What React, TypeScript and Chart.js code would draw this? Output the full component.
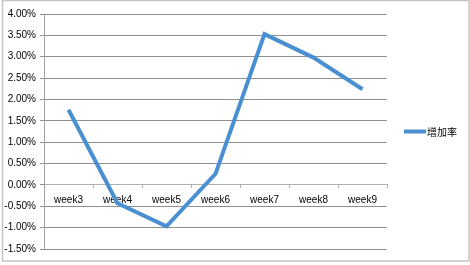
import React, { useEffect, useRef } from "react";
import { Chart, registerables } from "chart.js";

Chart.register(...registerables);

const categories = ["week3", "week4", "week5", "week6", "week7", "week8", "week9"];
const seriesLabel = "增加率";
const growthRates = [1.76, -0.43, -0.97, 0.26, 3.53, 2.98, 2.24];
const yMin = -1.5;
const yMax = 4.0;
const yStep = 0.5;

const LINE_COLOR = "#4a8fd2";
const GRID_COLOR = "#8f8f8f";
const FONT = '"Liberation Sans", Arial, sans-serif';

const framePlugin = {
  id: "frame",
  beforeDraw(chart: any) {
    const ctx = chart.ctx;
    ctx.save();
    ctx.fillStyle = "#ffffff";
    ctx.fillRect(0, 0, chart.width, chart.height);
    ctx.strokeStyle = "#c4c4c4";
    ctx.lineWidth = 1.5;
    ctx.strokeRect(2.5, 0.5, 466.5, 260.5);
    ctx.restore();
  },
};

const legendPlugin = {
  id: "sideLegend",
  afterDraw(chart: any) {
    const ctx = chart.ctx;
    const ds = chart.data.datasets[0];
    ctx.save();
    ctx.strokeStyle = ds.borderColor;
    ctx.lineWidth = 4;
    ctx.beginPath();
    ctx.moveTo(404, 131.5);
    ctx.lineTo(426, 131.5);
    ctx.stroke();
    ctx.fillStyle = "#000";
    ctx.font = '10px "Noto Sans CJK SC", sans-serif';
    ctx.textBaseline = "middle";
    ctx.textAlign = "left";
    ctx.fillText(ds.label, 427, 132);
    ctx.restore();
  },
};

export default function App() {
  const ref = useRef<HTMLCanvasElement>(null);
  useEffect(() => {
    const chart = new Chart(ref.current!, {
      type: "line",
      data: {
        labels: categories,
        datasets: [
          {
            label: seriesLabel,
            data: growthRates,
            borderColor: LINE_COLOR,
            backgroundColor: LINE_COLOR,
            borderWidth: 4,
            pointRadius: 0,
            tension: 0,
            fill: false,
          },
        ],
      },
      options: {
        animation: false,
        responsive: true,
        maintainAspectRatio: false,
        layout: { padding: { left: 0, top: 14, right: 83, bottom: 16 } },
        plugins: { legend: { display: false }, tooltip: { enabled: false } },
        scales: {
          x: {
            type: "category",
            position: { y: 0 } as any,
            offset: true,
            grid: {
              offset: true,
              drawOnChartArea: false,
              drawTicks: true,
              tickLength: 3,
              color: "#b0b0b0",
            },
            border: { display: true, color: "#b0b0b0", width: 1 },
            ticks: {
              color: "#000",
              font: { family: FONT, size: 10 },
              padding: 6,
              maxRotation: 0,
              autoSkip: false,
            },
          },
          y: {
            min: yMin,
            max: yMax,
            grid: { color: GRID_COLOR, tickLength: 4, lineWidth: 1 },
            border: { display: true, color: "#a0a0a0", width: 1 },
            ticks: {
              stepSize: yStep,
              color: "#000",
              font: { family: FONT, size: 10 },
              padding: 4,
              callback: (v: any) => Number(v).toFixed(2) + "%",
            },
            afterFit: (scale: any) => {
              scale.width = 44;
            },
          },
        },
      },
      plugins: [framePlugin, legendPlugin],
    });
    return () => chart.destroy();
  }, []);
  return (
    <div style={{ position: "absolute", left: 0, top: 0, width: 470, height: 265 }}>
      <canvas ref={ref} />
    </div>
  );
}
